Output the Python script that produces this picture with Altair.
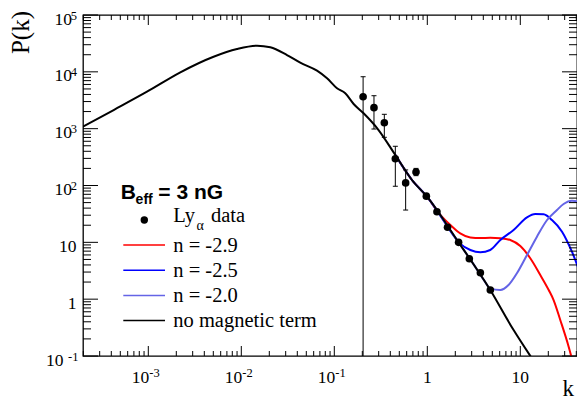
import altair as alt
import pandas as pd

# Ly-alpha measurements (k, P(k), lower / upper error)
lya_k = [0.204, 0.267, 0.345, 0.453, 0.585, 0.756, 0.976, 1.27, 1.65, 2.17, 2.83, 3.72, 4.76]
lya_p = [3650, 2340, 1273, 296, 111, 173, 65, 34.6, 18.4, 10.0, 5.15, 2.92, 1.45]
lya_lo = [0.01, 986, 705, 97, 37, 149, 60, 32, 17, 9.3, 4.8, 2.7, 1.35]
lya_hi = [8200, 3800, 1790, 490, 188, 200, 70, 37, 20, 10.8, 5.5, 3.15, 1.56]

# no magnetic term
base_k = [1.98e-4, 4.24e-4, 9.68e-4, 2.21e-3, 5.03e-3, 8.99e-3, 0.01476, 0.02051,
          0.03097, 0.04305, 0.06516, 0.08356, 0.1069, 0.1312, 0.1614, 0.2065,
          0.2992, 0.4529, 0.6839, 0.993, 2.084, 4.753, 8.47, 12.82, 17.8]
base_p = [1081, 2128, 4467, 9817, 18450, 25230, 28840, 27040, 19770, 14490, 10470,
          7691, 5129, 4188, 2716, 1862, 946, 344, 125, 63.5, 11.0, 1.45, 0.286, 0.1, 0.045]

# n = -2.9
red_k = [0.453, 0.684, 0.993, 1.38, 1.77, 2.26, 2.90, 3.72, 4.75, 6.10, 7.80, 10.0,
         12.8, 16.4, 20.2, 22.8, 26.9, 33.1, 38.1]
red_p = [344, 125, 63.5, 30.5, 20.2, 14.4, 12.2, 11.9, 12.0, 11.8, 11.0, 8.6,
         5.24, 2.66, 1.45, 0.966, 0.43, 0.146, 0.0615]

# n = -2.5
blue_k = [0.453, 0.684, 0.993, 1.38, 1.70, 2.27, 2.90, 3.72, 4.75, 6.10, 8.47, 11.8,
          14.5, 17.8, 21.9, 28.1, 35.9, 44.2]
blue_p = [344, 125, 63.5, 29.5, 17.5, 9.4, 7.33, 6.67, 7.33, 11.0, 16.5, 27.5,
          31.5, 31.1, 24.7, 15.4, 6.84, 2.85]

# n = -2.0
lite_k = [0.453, 0.684, 0.993, 2.08, 3.15, 4.03, 4.76, 6.10, 7.47, 9.19, 11.8, 15.1,
          19.4, 24.8, 29.2, 35.9, 47.9]
lite_p = [344, 125, 63.5, 11.0, 4.1, 2.2, 1.55, 1.45, 1.77, 2.85, 5.98, 12.6,
          24.7, 37.1, 47.2, 54.0, 50.6]

legend_labels = ["n = -2.9", "n = -2.5", "n = -2.0", "no magnetic term"]
legend_colors = ["#ff0000", "#0000ff", "#6464e6", "#000000"]

# axis ticks / labels
x_exp_ticks = [1e-3, 1e-2, 1e-1]
x_exp_text = ["-3", "-2", "-1"]
x_plain_ticks = [1, 10]
x_plain_text = ["1", "10"]
y_exp_ticks = [1e5, 1e4, 1e3, 1e2]
y_exp_text = ["5", "4", "3", "2"]
y_neg_ticks = [0.1]
y_neg_text = ["-1"]
y_plain_ticks = [10, 1]
y_plain_text = ["10", "1"]

# the svg may not be wider than the body (585 - 2*8), so the frame stops
# a little short of the window edge; keep 93 px per decade on x
W, H = 494, 341
X_DOMAIN = [1.985e-4, 40.7]
Y_DOMAIN = [0.1, 1e5]
SERIF = "Liberation Serif"
SANS = "Liberation Sans"

xs = alt.Scale(type="log", domain=X_DOMAIN, nice=False)
ys = alt.Scale(type="log", domain=Y_DOMAIN, nice=False)

x_major = x_exp_ticks + x_plain_ticks
y_major = y_exp_ticks + y_neg_ticks + y_plain_ticks
x_minor = [m * 10.0 ** e for e in range(-4, 2) for m in range(2, 10)
           if X_DOMAIN[0] < m * 10.0 ** e < X_DOMAIN[1]]
y_minor = [m * 10.0 ** e for e in range(-1, 5) for m in range(2, 10)]

one_row = pd.DataFrame({"a": [0]})


def curve(k, p, color):
    df = pd.DataFrame({"k": k, "p": p})
    return alt.Chart(df).mark_line(color=color, strokeWidth=2, clip=True,
                                   interpolate="monotone").encode(
        x=alt.X("k:Q", scale=xs, axis=None),
        y=alt.Y("p:Q", scale=ys, axis=None),
        order="k:Q"
    )


def x_ticks(values, length):
    df = pd.DataFrame({"v": values})
    bottom = alt.Chart(df).mark_rule(color="black", strokeWidth=1).encode(
        x=alt.X("v:Q", scale=xs, axis=None), y=alt.value(H), y2=alt.value(H - length))
    top = alt.Chart(df).mark_rule(color="black", strokeWidth=1).encode(
        x=alt.X("v:Q", scale=xs, axis=None), y=alt.value(0), y2=alt.value(length))
    return [bottom, top]


def y_ticks(values, length):
    df = pd.DataFrame({"v": values})
    left = alt.Chart(df).mark_rule(color="black", strokeWidth=1).encode(
        y=alt.Y("v:Q", scale=ys, axis=None), x=alt.value(0), x2=alt.value(length))
    right = alt.Chart(df).mark_rule(color="black", strokeWidth=1).encode(
        y=alt.Y("v:Q", scale=ys, axis=None), x=alt.value(W), x2=alt.value(W - length))
    return [left, right]


def x_labels():
    exp_df = pd.DataFrame({"v": x_exp_ticks, "t": x_exp_text})
    plain_df = pd.DataFrame({"v": x_plain_ticks, "t": x_plain_text})
    tens = alt.Chart(exp_df).mark_text(font=SERIF, fontSize=17.5, align="right",
                                       baseline="alphabetic", dx=1, text="10").encode(
        x=alt.X("v:Q", scale=xs, axis=None), y=alt.value(368))
    exps = alt.Chart(exp_df).mark_text(font=SERIF, fontSize=12.5, align="left",
                                       baseline="alphabetic", dx=1).encode(
        x=alt.X("v:Q", scale=xs, axis=None), y=alt.value(361.5), text="t:N")
    plain = alt.Chart(plain_df).mark_text(font=SERIF, fontSize=17.5, align="center",
                                          baseline="alphabetic").encode(
        x=alt.X("v:Q", scale=xs, axis=None), y=alt.value(368), text="t:N")
    return [tens, exps, plain]


def y_labels():
    layers = []
    for ticks, text, base_x, exp_x in [(y_exp_ticks, y_exp_text, -11, -6),
                                       (y_neg_ticks, y_neg_text, -19.5, -4.5)]:
        df = pd.DataFrame({"v": ticks, "t": text})
        layers.append(alt.Chart(df).mark_text(font=SERIF, fontSize=17.5, align="right",
                                              baseline="alphabetic", dy=9.5, text="10").encode(
            y=alt.Y("v:Q", scale=ys, axis=None), x=alt.value(base_x)))
        layers.append(alt.Chart(df).mark_text(font=SERIF, fontSize=12.5, align="right",
                                              baseline="alphabetic", dy=4.5).encode(
            y=alt.Y("v:Q", scale=ys, axis=None), x=alt.value(exp_x), text="t:N"))
    plain_df = pd.DataFrame({"v": y_plain_ticks, "t": y_plain_text})
    layers.append(alt.Chart(plain_df).mark_text(font=SERIF, fontSize=17.5, align="right",
                                                baseline="alphabetic", dy=9.5).encode(
        y=alt.Y("v:Q", scale=ys, axis=None), x=alt.value(-6.5), text="t:N"))
    return layers


def label(text, x, y, size, font=SERIF, weight="normal", align="left", angle=0):
    return alt.Chart(one_row).mark_text(text=text, font=font, fontSize=size,
                                        fontWeight=weight, align=align, angle=angle,
                                        baseline="alphabetic").encode(
        x=alt.value(x), y=alt.value(y))


def legend():
    layers = [
        label("B", 37.7, 183.5, 21, SANS, "bold"),
        label("eff", 52.6, 188.5, 14, SANS, "bold"),
        label("= 3 nG", 75.3, 183.5, 21, SANS, "bold"),
        alt.Chart(one_row).mark_circle(size=55, color="black", opacity=1).encode(
            x=alt.value(61.3), y=alt.value(205)),
        label("Ly", 90.3, 207.3, 20.5),
        label("\u03b1", 113.5, 215, 14),
        label("data", 128, 207.3, 20.5),
    ]
    for i, (text, color) in enumerate(zip(legend_labels, legend_colors)):
        row_y = 230 + 25.2 * i
        layers.append(alt.Chart(one_row).mark_rule(color=color, strokeWidth=1.5).encode(
            x=alt.value(40.3), x2=alt.value(82), y=alt.value(row_y)))
        layers.append(label(text, 90.3, row_y + 6.7, 20.5))
    return layers


lya = pd.DataFrame({"k": lya_k, "p": lya_p, "lo": lya_lo, "hi": lya_hi})
err_bars = alt.Chart(lya).mark_rule(color="black", strokeWidth=1, clip=True).encode(
    x=alt.X("k:Q", scale=xs, axis=None),
    y=alt.Y("lo:Q", scale=ys, axis=None),
    y2="hi:Q"
)
caps_hi = alt.Chart(lya).mark_tick(orient="horizontal", size=5, thickness=1,
                                   color="black", clip=True, opacity=1).encode(
    x=alt.X("k:Q", scale=xs, axis=None), y=alt.Y("hi:Q", scale=ys, axis=None))
caps_lo = alt.Chart(lya).mark_tick(orient="horizontal", size=5, thickness=1,
                                   color="black", clip=True, opacity=1).encode(
    x=alt.X("k:Q", scale=xs, axis=None), y=alt.Y("lo:Q", scale=ys, axis=None))
points = alt.Chart(lya).mark_circle(size=58, color="black", opacity=1, clip=True).encode(
    x=alt.X("k:Q", scale=xs, axis=None), y=alt.Y("p:Q", scale=ys, axis=None))

# Order matters: colored curves below the reference curve, data on top
layers = [
    curve(red_k, red_p, legend_colors[0]),
    curve(blue_k, blue_p, legend_colors[1]),
    curve(lite_k, lite_p, legend_colors[2]),
    curve(base_k, base_p, legend_colors[3]),
    err_bars, caps_hi, caps_lo, points,
]
layers += x_ticks(x_major, 10) + x_ticks(x_minor, 5)
layers += y_ticks(y_major, 15) + y_ticks(y_minor, 8)
layers += x_labels() + y_labels() + legend()
layers.append(label("P(k)", -54, -4, 25, align="right", angle=270))
layers.append(label("k", W - 3, 381, 23, align="right"))

chart = alt.layer(*layers).properties(
    width=W, height=H,
    padding={"left": 75, "top": 7, "right": 0, "bottom": 47},
    autosize="none"
).configure_view(stroke="black", strokeWidth=1.3)

chart.save("out.html", embed_options={"renderer": "svg", "actions": False})
